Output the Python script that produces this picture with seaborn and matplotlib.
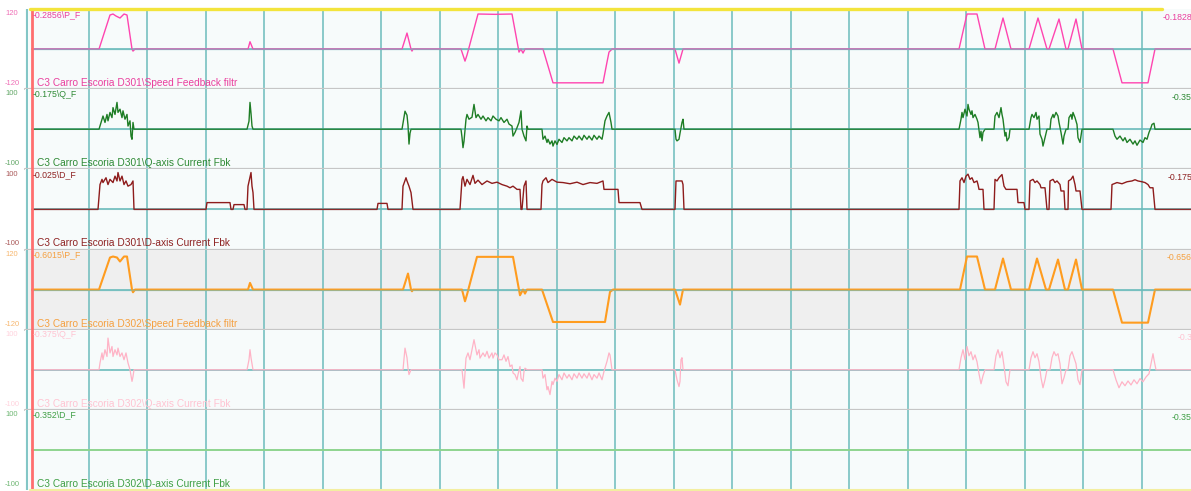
import numpy as np
import pandas as pd
import matplotlib
matplotlib.use("Agg")
import matplotlib.pyplot as plt
import seaborn as sns

sns.set_theme(style="white")
plt.rcParams['font.family'] = ['Liberation Sans', 'DejaVu Sans']
plt.rcParams['axes.unicode_minus'] = False

# ---------------- time window (seconds), 20 divisions of 58.5 s ----------------
T_MIN, T_MAX = -5, 1161
GRID_STEP = 58.5
grid_times = [GRID_STEP * k for k in range(1, 20)]
cursor_time = 1.5
axis_time = -3
trace_start = 2

# ---------------- lane definitions ----------------
lane_names = [
    "C3 Carro Escoria D301\\Speed Feedback filtr",
    "C3 Carro Escoria D301\\Q-axis Current Fbk",
    "C3 Carro Escoria D301\\D-axis Current Fbk",
    "C3 Carro Escoria D302\\Speed Feedback filtr",
    "C3 Carro Escoria D302\\Q-axis Current Fbk",
    "C3 Carro Escoria D302\\D-axis Current Fbk",
]
cursor_labels = ["-0.2856\\P_F", "-0.175\\Q_F", "-0.025\\D_F",
                 "-0.6015\\P_F", "-0.375\\Q_F", "-0.352\\D_F"]
right_labels = ["-0.1828", "-0.35", "-0.175", "-0.656", "-0.3", "-0.35"]
scale_limits = [120, 100, 100, 120, 100, 100]

# ---------------- series (time s, value) ----------------
speed_d301 = [(2, 0), (69, 0), (80, 102), (83, 105), (86, 99), (90, 93), (94, 105), (97, 102),
              (102, 0), (103, -6), (105, 0),
              (218, 0), (220, 22), (223, 0),
              (372, 0), (377, 48), (381, 0), (382, -6), (383, 0),
              (431, 0), (435, -36), (437, -18), (448, 105), (465, 104), (482, 105), (489, -9),
              (491, 0), (493, -12), (495, 0), (513, 0), (523, -101), (573, -101), (577, -39),
              (579, -9), (582, 0),
              (645, 0), (649, -42), (653, 0),
              (929, 0), (937, 105), (947, 105), (955, 0), (965, 0), (973, 93), (981, 0),
              (999, 0), (1008, 93), (1017, 0), (1019, 0), (1029, 90), (1036, 0),
              (1038, 0), (1046, 90), (1052, 0),
              (1083, 0), (1092, -101), (1118, -101), (1125, 0), (1161, 0)]

iq_d301 = [(2, 0), (69, 0), (72, 25), (73, 33), (75, 17), (77, 37), (78, 21), (80, 42), (82, 29),
           (83, 54), (85, 37), (87, 67), (88, 42), (90, 50), (92, 29), (93, 46), (95, 25), (97, 37),
           (98, 8), (100, 21), (101, -17), (102, -25), (103, 17), (104, 0),
           (217, 0), (219, 20), (220, 67), (221, 40), (222, 8), (223, 0),
           (372, 0), (374, 30), (375, 45), (377, 35), (378, 10), (379, -37), (380, -10), (381, 0),
           (431, 0), (432, -20), (433, -46), (434, -30), (436, 25), (437, 37), (439, 25), (442, 30),
           (444, 62), (446, 29), (448, 37), (451, 25), (453, 33), (456, 21), (458, 29), (461, 21),
           (463, 33), (466, 25), (469, 21), (471, 29), (474, 17), (477, 25), (479, 13), (482, 8),
           (483, -17), (485, -8), (487, 4), (489, 17), (491, 46), (492, 0), (494, -17), (496, -29),
           (497, 8), (498, 0),
           (512, 0), (513, -25), (515, -17), (517, -33), (518, -25), (520, -37), (522, -29),
           (523, -42), (525, -29), (527, -38), (529, -25), (532, -33), (534, -21), (537, -29),
           (539, -21), (542, -29), (544, -17), (547, -25), (549, -17), (552, -27), (554, -15),
           (557, -25), (559, -17), (562, -27), (564, -15), (567, -25), (569, -17), (572, -25),
           (573, -12), (575, 21), (577, 33), (579, 42), (581, 17), (582, 0),
           (645, 0), (646, -25), (647, -29), (649, -25), (650, -10), (652, 17), (653, 25), (654, 0),
           (929, 0), (931, 25), (932, 42), (933, 29), (935, 50), (937, 33), (938, 62), (939, 50),
           (941, 37), (942, 46), (943, 29), (945, 37), (947, 25), (948, 17), (950, -21), (951, -5),
           (952, -29), (953, -8), (955, 0),
           (964, 0), (965, 33), (967, 42), (969, 29), (971, 54), (972, 37), (973, 25), (975, -17),
           (976, -8), (977, -29), (979, -21), (980, 0),
           (999, 0), (1001, 29), (1002, 37), (1004, 29), (1006, 42), (1007, 25), (1009, 33),
           (1010, -12), (1012, -25), (1013, -42), (1015, -21), (1017, 0),
           (1020, 0), (1021, 25), (1023, 37), (1024, 29), (1026, 42), (1028, 33), (1029, 17),
           (1031, -8), (1033, -37), (1034, -17), (1036, 0),
           (1038, 0), (1039, 29), (1041, 37), (1042, 25), (1043, 42), (1045, 29), (1047, 12),
           (1048, -21), (1050, -33), (1052, 0),
           (1083, 0), (1085, -17), (1087, -25), (1090, -17), (1093, -29), (1095, -21), (1097, -33),
           (1100, -25), (1103, -37), (1105, -29), (1107, -40), (1110, -27), (1113, -33),
           (1115, -21), (1117, -25), (1119, -8), (1121, 4), (1122, 12), (1124, 15), (1125, 0),
           (1161, 0)]

id_d301 = [(2, 0), (68, 0), (70, 62), (72, 75), (73, 67), (76, 79), (78, 62), (80, 75), (83, 67),
           (85, 83), (87, 71), (88, 92), (90, 71), (92, 83), (94, 62), (96, 71), (98, 58), (101, 62),
           (103, 71), (103.5, 37), (104, 0),
           (176, 0), (177, 17), (200, 17), (201, 0), (203, 0), (204, 12), (214, 12), (215, 0),
           (217, 0), (218, 58), (220, 80), (221, 92), (222, 58), (223, 42), (224, 0),
           (347, 0), (348, 15), (357, 15), (358, 0), (372, 0), (373, 58), (376, 79), (377, 71),
           (379, 58), (381, 42), (383, 0),
           (430, 0), (432, 75), (433, 82), (435, 58), (437, 75), (440, 62), (443, 85), (445, 65),
           (448, 73), (452, 62), (457, 71), (462, 65), (467, 68), (472, 62), (477, 58), (480, 54),
           (483, 58), (487, 50), (490, 50), (491, 0), (492, 0), (494, 58), (496, 71), (497, 0),
           (511, 0), (512, 62), (513, 71), (516, 79), (518, 67), (522, 75), (527, 68), (533, 67),
           (540, 64), (547, 68), (553, 62), (560, 67), (567, 65), (573, 71), (574, 50), (588, 50),
           (589, 17), (610, 17), (612, 0),
           (645, 0), (646, 71), (652, 71), (653, 62), (654, 0),
           (929, 0), (930, 71), (932, 79), (934, 67), (936, 83), (938, 88), (940, 75), (942, 79),
           (944, 67), (947, 71), (948, 62), (949, 50), (953, 50), (954, 0),
           (964, 0), (965, 75), (967, 71), (969, 79), (972, 87), (974, 58), (976, 50), (987, 50),
           (988, 17), (994, 17), (995, 0),
           (999, 0), (1000, 71), (1003, 75), (1005, 67), (1007, 71), (1010, 62), (1011, 54),
           (1015, 54), (1017, 0),
           (1019, 0), (1020, 71), (1023, 75), (1025, 67), (1027, 71), (1030, 62), (1031, 46),
           (1034, 46), (1035, 0),
           (1038, 0), (1038.5, 71), (1041, 75), (1043, 83), (1045, 62), (1046, 46), (1050, 46),
           (1052, 0),
           (1081, 0), (1082, 62), (1087, 67), (1092, 64), (1097, 69), (1102, 71), (1105, 74),
           (1108, 71), (1112, 69), (1115, 67), (1118, 62), (1120, 54), (1123, 54), (1125, 0),
           (1161, 0)]

speed_d302 = [(2, 0), (69, 0), (80, 96), (83, 99), (87, 96), (90, 84), (94, 99), (97, 99),
              (102, 0), (103, -8), (105, 0),
              (218, 0), (220, 20), (223, 0),
              (373, 0), (378, 48), (381, 0), (382, -5), (383, 0),
              (432, 0), (435, -35), (437, -15), (447, 98), (483, 98), (490, -17), (493, 0),
              (495, -12), (497, 0), (512, 0), (523, -97), (575, -97), (580, -7), (583, 0),
              (645, 0), (650, -45), (653, 0),
              (930, 0), (937, 99), (947, 99), (955, 0), (965, 0), (973, 93), (981, 0),
              (999, 0), (1007, 93), (1016, 0), (1019, 0), (1028, 90), (1035, 0),
              (1038, 0), (1046, 90), (1052, 0),
              (1083, 0), (1092, -99), (1118, -99), (1125, 0), (1161, 0)]

iq_d302 = [(2, 0), (69, 0), (70, 17), (72, 42), (73, 25), (75, 50), (77, 33), (78, 79), (80, 42),
           (82, 58), (83, 33), (85, 50), (87, 37), (88, 54), (90, 33), (92, 42), (94, 25), (96, 42),
           (98, 17), (100, 0), (102, -29), (103, -17), (104, 0),
           (217, 0), (219, 25), (220, 50), (221, 30), (223, 0),
           (373, 0), (375, 54), (377, 30), (378, 4), (379, -12), (381, 0),
           (432, 0), (434, -46), (436, 29), (438, 42), (440, 25), (442, 50), (444, 75), (447, 37),
           (449, 50), (450, 29), (453, 42), (455, 33), (457, 46), (459, 29), (462, 42), (463, 29),
           (465, 42), (467, 37), (469, 25), (472, 25), (474, 37), (476, 21), (478, 33), (480, 8),
           (482, 12), (483, -8), (485, -12), (487, -25), (488, -12), (490, 8), (491, -21),
           (493, -29), (494, -4), (495, 4), (497, 0),
           (512, 0), (513, -21), (515, -12), (517, -50), (518, -42), (520, -62), (522, -29),
           (523, -37), (525, -21), (527, -29), (529, -12), (532, -25), (534, -8), (537, -21),
           (539, -12), (542, -25), (544, -10), (547, -21), (549, -8), (552, -21), (554, -10),
           (557, -21), (559, -8), (562, -25), (564, -12), (567, -21), (569, -8), (572, -25),
           (574, -4), (577, 21), (579, 42), (580, 37), (582, 0),
           (645, 0), (647, -25), (649, -42), (650, -29), (651, 25), (652, 30), (653, 0),
           (929, 0), (931, 30), (933, 50), (935, 25), (937, 58), (939, 35), (941, 45), (943, 25),
           (945, 37), (947, 20), (949, -10), (951, -35), (953, -15), (955, 0),
           (964, 0), (966, 35), (968, 50), (970, 30), (972, 45), (974, 10), (976, -30), (978, -40),
           (980, 0),
           (999, 0), (1001, 30), (1003, 45), (1005, 30), (1007, 40), (1009, 20), (1011, -20),
           (1013, -45), (1015, -25), (1017, 0),
           (1020, 0), (1022, 30), (1024, 45), (1026, 35), (1028, 40), (1030, 15), (1032, -35),
           (1034, -20), (1036, 0),
           (1038, 0), (1040, 35), (1042, 45), (1044, 30), (1046, 15), (1048, -25), (1050, -37),
           (1052, 0),
           (1083, 0), (1086, -25), (1089, -45), (1092, -30), (1095, -40), (1098, -28), (1101, -38),
           (1104, -25), (1107, -35), (1110, -22), (1113, -30), (1116, -18), (1119, -10), (1121, 15),
           (1123, 40), (1124, 25), (1126, 0), (1161, 0)]

id_d302 = [(2, 0), (1161, 0)]

series = [speed_d301, iq_d301, id_d301, speed_d302, iq_d302, id_d302]

trace_colors = ['#ff45b0', '#1e7d25', '#8e1c1c', '#ff9c1f', '#ffb3c6', '#8fd48f']
text_colors = ['#ea3f9e', '#2f8a35', '#8e2222', '#f5a040', '#ffc4d2', '#3f9f45']
trace_widths = [1.0, 1.0, 1.0, 1.5, 0.9, 1.4]
zero_overlay_alpha = [0.55, 0.15, 0.1, 0.45, 0.0, 0.0]
lane_bg = ['#f7fbfb', '#f7fbfb', '#f7fbfb', '#efefef', '#f7fbfb', '#f7fbfb']
right_label_t = [1133, 1142, 1138, 1137, 1148, 1142]

TEAL = '#6cbcbc'
SEP = '#c6c6c6'

# ---------------- figure ----------------
W, H = 1191, 491
fig = plt.figure(figsize=(W / 100, H / 100), dpi=100)
fig.patch.set_facecolor('white')
lane_top, lane_bot = 9, 490
n = len(series)
lane_h = (lane_bot - lane_top) / n
ax_left = 25
span = T_MAX - T_MIN
zero_xmin = (trace_start - T_MIN) / span

axes = []
for i in range(n):
    top = lane_top + i * lane_h
    ax = fig.add_axes([ax_left / W, 1 - (top + lane_h) / H, (W - ax_left) / W, lane_h / H])
    axes.append(ax)
    lim = scale_limits[i]
    ax.set_facecolor(lane_bg[i])
    ax.set_xlim(T_MIN, T_MAX)
    ax.set_ylim(-lim, lim)
    ax.set_xticks([])
    ax.set_yticks([])
    for s in ax.spines.values():
        s.set_visible(False)

    for g in grid_times:
        ax.axvline(g, color=TEAL, lw=1.1, zorder=1)
    ax.axvline(axis_time, color=TEAL, lw=1.2, zorder=1)
    if i < 5:
        ax.axhline(0, xmin=zero_xmin, color=TEAL, lw=1.2, zorder=1)

    df = pd.DataFrame(series[i], columns=['t', 'v'])
    sns.lineplot(data=df, x='t', y='v', ax=ax, color=trace_colors[i], linewidth=trace_widths[i],
                 estimator=None, sort=False, legend=False, zorder=3)
    ax.set_xlabel('')
    ax.set_ylabel('')
    if zero_overlay_alpha[i] > 0:
        ax.axhline(0, xmin=zero_xmin, color=TEAL, lw=1.0, alpha=zero_overlay_alpha[i], zorder=3.5)

    if i < n - 1:
        ax.axhline(-lim, color=SEP, lw=1.6, zorder=4, clip_on=False)

    ax.axvline(cursor_time, color='#ff6e6e', lw=2.0, zorder=6)

    tr = ax.get_xaxis_transform()
    ax.text(2.5, 0.935, cursor_labels[i], transform=tr, fontsize=6.3, color=text_colors[i],
            ha='left', va='center', zorder=7)
    ax.text(7, 0.075, lane_names[i], transform=tr, fontsize=7.3, color=text_colors[i],
            ha='left', va='center', zorder=7)
    ax.text(right_label_t[i], 0.9, right_labels[i], transform=tr, fontsize=6.3,
            color=text_colors[i], ha='left', va='center', zorder=7, clip_on=False)
    ax.text(-25, 0.94, str(lim), transform=tr, fontsize=5.5, color=text_colors[i], alpha=0.75,
            ha='left', va='center', clip_on=False)
    ax.text(-25, 0.07, '-' + str(lim), transform=tr, fontsize=5.5, color=text_colors[i],
            alpha=0.75, ha='left', va='center', clip_on=False)

# top yellow marker line and faint bottom line
axes[0].axhline(scale_limits[0], xmin=5 / 1166, xmax=1137 / 1166, color='#f3e43c', lw=2.4,
                clip_on=False, zorder=8)
axes[-1].axhline(-scale_limits[-1], xmin=5 / 1166, xmax=1.0, color='#f3eea0', lw=1.5,
                 clip_on=False, zorder=8)

fig.savefig('out.png', dpi=100, facecolor=fig.get_facecolor())
